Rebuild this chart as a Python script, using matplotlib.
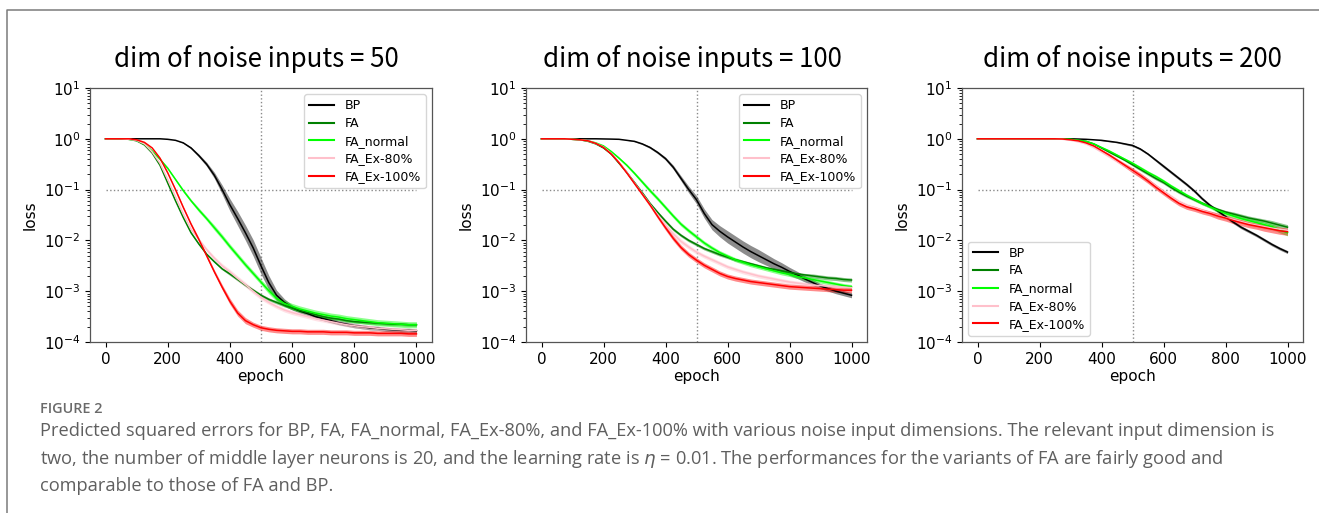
import numpy as np
import matplotlib
matplotlib.use("Agg")
import matplotlib.pyplot as plt
from matplotlib.lines import Line2D

# ---------------------------------------------------------------- data
EPOCHS = [0, 25, 50, 75, 100, 125, 150, 175, 200, 225, 250, 275, 300, 325,
          350, 375, 400, 425, 450, 475, 500, 525, 550, 575, 600, 625, 650,
          675, 700, 725, 750, 775, 800, 825, 850, 875, 900, 925, 950, 975, 1000]

NOISE_DIMS = [50, 100, 200]
SERIES = ["BP", "FA", "FA_normal", "FA_Ex-80%", "FA_Ex-100%"]
COLORS = ["black", "green", "lime", "pink", "red"]

# log10(loss) of each rule, one list per noise-input dimension
D50_BP = [0, 0, 0, 0, 0, 0, 0, 0, -0.01, -0.03, -0.08, -0.18, -0.33, -0.50,
          -0.72, -1.00, -1.30, -1.57, -1.85, -2.15, -2.50,
          -2.83, -3.08, -3.22, -3.32, -3.39, -3.44, -3.50, -3.54, -3.58, -3.62,
          -3.65, -3.68, -3.70, -3.72, -3.73, -3.75, -3.76, -3.77, -3.77, -3.78]
D50_FA = [0, 0, 0, -0.01, -0.04, -0.12, -0.28, -0.52, -0.87, -1.22, -1.55,
          -1.85, -2.07, -2.27, -2.42, -2.56, -2.66, -2.77, -2.88, -2.98, -3.08,
          -3.16, -3.22, -3.28, -3.33, -3.38, -3.42, -3.46, -3.50, -3.53, -3.55,
          -3.58, -3.60, -3.61, -3.62, -3.63, -3.64, -3.65, -3.65, -3.66, -3.66]
D50_FAN = [0, 0, 0, -0.01, -0.03, -0.10, -0.24, -0.40, -0.58, -0.80, -1.02,
           -1.22, -1.40, -1.57, -1.75, -1.93, -2.12, -2.30, -2.48, -2.65, -2.82,
           -2.99, -3.14, -3.24, -3.30, -3.35, -3.39, -3.43, -3.46, -3.49, -3.51,
           -3.54, -3.56, -3.58, -3.60, -3.62, -3.63, -3.64, -3.65, -3.66, -3.66]
D50_EX80 = [0, 0, 0, -0.01, -0.03, -0.10, -0.26, -0.48, -0.80, -1.14, -1.48,
            -1.78, -1.98, -2.18, -2.35, -2.50, -2.62, -2.75, -2.87, -3.00, -3.12,
            -3.22, -3.30, -3.37, -3.42, -3.46, -3.50, -3.54, -3.57, -3.60, -3.63,
            -3.66, -3.68, -3.70, -3.71, -3.73, -3.74, -3.75, -3.76, -3.77, -3.77]
D50_EX100 = [0, 0, 0, 0, -0.02, -0.07, -0.18, -0.38, -0.67, -1.00, -1.35,
             -1.68, -1.98, -2.30, -2.62, -2.92, -3.20, -3.43, -3.58, -3.66, -3.72,
             -3.75, -3.77, -3.78, -3.79, -3.79, -3.80, -3.80, -3.80, -3.81, -3.81,
             -3.81, -3.82, -3.82, -3.82, -3.83, -3.83, -3.83, -3.83, -3.84, -3.84]

D100_BP = [0, 0, 0, 0, 0, 0, 0, 0, -0.003, -0.006, -0.01, -0.03, -0.05, -0.10,
           -0.17, -0.27, -0.39, -0.56, -0.78, -1.00, -1.20,
           -1.47, -1.69, -1.82, -1.93, -2.03, -2.13, -2.22, -2.30, -2.38, -2.46,
           -2.53, -2.61, -2.68, -2.76, -2.83, -2.90, -2.95, -3.00, -3.04, -3.08]
D100_FA = [0, 0, 0, 0, -0.01, -0.02, -0.05, -0.10, -0.18, -0.30, -0.48,
           -0.66, -0.86, -1.06, -1.27, -1.45, -1.62, -1.78, -1.90, -2.00, -2.08,
           -2.16, -2.22, -2.28, -2.33, -2.38, -2.42, -2.46, -2.50, -2.54, -2.57,
           -2.60, -2.63, -2.66, -2.68, -2.70, -2.72, -2.74, -2.75, -2.77, -2.78]
D100_FAN = [0, 0, 0, 0, -0.01, -0.02, -0.04, -0.08, -0.14, -0.25, -0.38,
            -0.52, -0.68, -0.85, -1.02, -1.18, -1.35, -1.52, -1.68, -1.81, -1.93,
            -2.05, -2.15, -2.24, -2.31, -2.38, -2.43, -2.48, -2.52, -2.56, -2.60,
            -2.64, -2.67, -2.71, -2.74, -2.77, -2.80, -2.83, -2.86, -2.89, -2.91]
D100_EX80 = [0, 0, 0, 0, -0.01, -0.02, -0.04, -0.09, -0.16, -0.29, -0.46,
             -0.66, -0.87, -1.08, -1.29, -1.50, -1.70, -1.87, -2.02, -2.13, -2.23,
             -2.31, -2.38, -2.45, -2.52, -2.57, -2.62, -2.66, -2.70, -2.73, -2.76,
             -2.79, -2.82, -2.84, -2.86, -2.88, -2.89, -2.90, -2.91, -2.92, -2.93]
D100_EX100 = [0, 0, 0, 0, -0.01, -0.02, -0.04, -0.09, -0.17, -0.30, -0.47,
              -0.67, -0.88, -1.09, -1.30, -1.53, -1.75, -1.96, -2.14, -2.28, -2.39,
              -2.49, -2.57, -2.65, -2.71, -2.75, -2.78, -2.81, -2.83, -2.85, -2.87,
              -2.89, -2.91, -2.92, -2.93, -2.94, -2.95, -2.96, -2.97, -2.98, -2.98]

D200_BP = [0, 0, 0, 0, 0, 0, 0, 0, 0, 0, 0, 0, 0, -0.005,
           -0.01, -0.02, -0.03, -0.05, -0.07, -0.10, -0.13,
           -0.20, -0.30, -0.42, -0.54, -0.66, -0.78, -0.90, -1.03, -1.18, -1.31,
           -1.42, -1.53, -1.64, -1.74, -1.82, -1.90, -1.99, -2.08, -2.16, -2.23]
D200_FA = [0, 0, 0, 0, 0, 0, 0, 0, 0, 0, 0, -0.005, -0.01, -0.03,
           -0.05, -0.10, -0.18, -0.26, -0.34, -0.42, -0.51,
           -0.60, -0.69, -0.78, -0.86, -0.96, -1.05, -1.13, -1.20, -1.27, -1.33,
           -1.39, -1.44, -1.48, -1.52, -1.56, -1.59, -1.62, -1.66, -1.70, -1.74]
D200_FAN = [0, 0, 0, 0, 0, 0, 0, 0, 0, 0, 0, -0.005, -0.01, -0.03,
            -0.05, -0.10, -0.17, -0.24, -0.32, -0.40, -0.48,
            -0.57, -0.66, -0.74, -0.83, -0.93, -1.02, -1.11, -1.19, -1.27, -1.34,
            -1.41, -1.47, -1.52, -1.57, -1.61, -1.65, -1.69, -1.73, -1.79, -1.85]
D200_EX80 = [0, 0, 0, 0, 0, 0, 0, 0, 0, 0, 0, -0.01, -0.03, -0.06,
             -0.10, -0.17, -0.26, -0.35, -0.44, -0.53, -0.63,
             -0.72, -0.82, -0.93, -1.04, -1.14, -1.24, -1.31, -1.36, -1.41, -1.46,
             -1.51, -1.55, -1.59, -1.63, -1.67, -1.70, -1.73, -1.76, -1.78, -1.80]
D200_EX100 = [0, 0, 0, 0, 0, 0, 0, 0, 0, 0, 0, -0.005, -0.02, -0.04,
              -0.08, -0.14, -0.23, -0.32, -0.42, -0.52, -0.62,
              -0.72, -0.83, -0.95, -1.06, -1.17, -1.27, -1.34, -1.38, -1.43, -1.47,
              -1.52, -1.56, -1.61, -1.65, -1.69, -1.72, -1.75, -1.78, -1.81, -1.83]

# half-width (decades) of the epoch-to-epoch jitter around each curve
N50_BP = [0, 0, 0, 0, 0, 0, 0, 0, 0, 0, 0.01, 0.02, 0.03, 0.04,
          0.06, 0.09, 0.12, 0.14, 0.15, 0.16, 0.16,
          0.14, 0.10, 0.07, 0.05, 0.04, 0.04, 0.04, 0.04, 0.04, 0.04,
          0.04, 0.04, 0.04, 0.04, 0.04, 0.04, 0.04, 0.04, 0.04, 0.04]
N50_FA = [0, 0, 0, 0, 0, 0, 0, 0, 0.01, 0.015, 0.02, 0.02, 0.02, 0.02,
          0.02, 0.02, 0.03, 0.03, 0.03, 0.03, 0.03,
          0.03, 0.03, 0.03, 0.03, 0.03, 0.03, 0.03, 0.03, 0.03, 0.03,
          0.03, 0.03, 0.03, 0.03, 0.03, 0.03, 0.03, 0.03, 0.03, 0.03]
N50_FAN = [0, 0, 0, 0, 0, 0, 0.01, 0.01, 0.02, 0.02, 0.03, 0.03, 0.04, 0.04,
           0.05, 0.05, 0.05, 0.05, 0.05, 0.05, 0.05,
           0.06, 0.06, 0.06, 0.06, 0.06, 0.06, 0.06, 0.06, 0.06, 0.06,
           0.06, 0.06, 0.06, 0.06, 0.06, 0.06, 0.06, 0.06, 0.06, 0.06]
N50_EX80 = [0, 0, 0, 0, 0, 0, 0, 0, 0.01, 0.015, 0.02, 0.025, 0.03, 0.035,
            0.04, 0.045, 0.05, 0.05, 0.05, 0.05, 0.05,
            0.04, 0.04, 0.04, 0.04, 0.04, 0.04, 0.04, 0.04, 0.04, 0.04,
            0.04, 0.04, 0.04, 0.04, 0.04, 0.04, 0.04, 0.04, 0.04, 0.04]
N50_EX100 = [0, 0, 0, 0, 0, 0, 0, 0, 0.01, 0.015, 0.02, 0.025, 0.03, 0.035,
             0.04, 0.05, 0.06, 0.06, 0.06, 0.05, 0.05,
             0.05, 0.05, 0.05, 0.05, 0.05, 0.05, 0.05, 0.05, 0.05, 0.05,
             0.05, 0.05, 0.05, 0.05, 0.05, 0.05, 0.05, 0.05, 0.05, 0.05]

N100_BP = [0, 0, 0, 0, 0, 0, 0, 0, 0, 0, 0, 0, 0.01, 0.015,
           0.02, 0.025, 0.03, 0.04, 0.05, 0.065, 0.08,
           0.09, 0.10, 0.11, 0.12, 0.12, 0.12, 0.12, 0.12, 0.11, 0.10,
           0.09, 0.08, 0.07, 0.06, 0.06, 0.05, 0.05, 0.05, 0.05, 0.05]
N100_FA = [0, 0, 0, 0, 0, 0, 0, 0, 0.01, 0.015, 0.02, 0.02, 0.02, 0.02,
           0.02, 0.025, 0.03, 0.03, 0.03, 0.03, 0.03,
           0.03, 0.03, 0.03, 0.03, 0.03, 0.03, 0.03, 0.03, 0.03, 0.03,
           0.03, 0.03, 0.03, 0.03, 0.04, 0.04, 0.04, 0.04, 0.04, 0.04]
N100_FAN = [0, 0, 0, 0, 0, 0, 0, 0, 0.01, 0.015, 0.02, 0.025, 0.03, 0.035,
            0.04, 0.04, 0.04, 0.04, 0.04, 0.04, 0.04,
            0.04, 0.04, 0.04, 0.04, 0.04, 0.04, 0.04, 0.04, 0.04, 0.04,
            0.04, 0.04, 0.04, 0.04, 0.04, 0.04, 0.04, 0.04, 0.04, 0.04]
N100_EX80 = [0, 0, 0, 0, 0, 0, 0, 0, 0.01, 0.015, 0.02, 0.025, 0.03, 0.035,
             0.04, 0.045, 0.05, 0.05, 0.05, 0.045, 0.04,
             0.04, 0.04, 0.04, 0.04, 0.04, 0.04, 0.04, 0.04, 0.04, 0.04,
             0.04, 0.04, 0.04, 0.04, 0.04, 0.04, 0.04, 0.04, 0.04, 0.04]
N100_EX100 = [0, 0, 0, 0, 0, 0, 0, 0, 0.01, 0.015, 0.02, 0.025, 0.03, 0.035,
              0.04, 0.045, 0.05, 0.05, 0.05, 0.05, 0.05,
              0.05, 0.05, 0.05, 0.05, 0.05, 0.05, 0.05, 0.05, 0.05, 0.05,
              0.05, 0.05, 0.05, 0.05, 0.05, 0.05, 0.05, 0.05, 0.05, 0.05]

N200_BP = [0, 0, 0, 0, 0, 0, 0, 0, 0, 0, 0, 0, 0, 0,
           0, 0, 0.01, 0.01, 0.01, 0.015, 0.02,
           0.02, 0.02, 0.025, 0.03, 0.03, 0.03, 0.03, 0.03, 0.03, 0.03,
           0.03, 0.03, 0.03, 0.03, 0.03, 0.03, 0.03, 0.03, 0.03, 0.03]
N200_FA = [0, 0, 0, 0, 0, 0, 0, 0, 0, 0, 0, 0, 0, 0,
           0.01, 0.01, 0.015, 0.02, 0.02, 0.02, 0.025,
           0.03, 0.03, 0.03, 0.03, 0.03, 0.03, 0.03, 0.03, 0.03, 0.03,
           0.03, 0.03, 0.04, 0.04, 0.04, 0.04, 0.04, 0.05, 0.05, 0.05]
N200_FAN = [0, 0, 0, 0, 0, 0, 0, 0, 0, 0, 0, 0, 0, 0,
            0.01, 0.01, 0.015, 0.02, 0.02, 0.02, 0.025,
            0.03, 0.03, 0.03, 0.03, 0.03, 0.03, 0.03, 0.03, 0.03, 0.03,
            0.04, 0.04, 0.04, 0.04, 0.04, 0.05, 0.05, 0.05, 0.06, 0.06]
N200_EX80 = [0, 0, 0, 0, 0, 0, 0, 0, 0, 0, 0, 0, 0, 0,
             0.01, 0.015, 0.02, 0.025, 0.03, 0.035, 0.04,
             0.04, 0.04, 0.04, 0.04, 0.04, 0.04, 0.04, 0.04, 0.04, 0.04,
             0.04, 0.04, 0.04, 0.04, 0.05, 0.05, 0.05, 0.05, 0.05, 0.05]
N200_EX100 = [0, 0, 0, 0, 0, 0, 0, 0, 0, 0, 0, 0, 0, 0,
              0.01, 0.015, 0.02, 0.03, 0.035, 0.04, 0.05,
              0.05, 0.05, 0.05, 0.05, 0.05, 0.05, 0.05, 0.05, 0.05, 0.05,
              0.06, 0.06, 0.06, 0.06, 0.06, 0.06, 0.07, 0.07, 0.07, 0.07]

PANEL_CURVES = [
    [D50_BP, D50_FA, D50_FAN, D50_EX80, D50_EX100],
    [D100_BP, D100_FA, D100_FAN, D100_EX80, D100_EX100],
    [D200_BP, D200_FA, D200_FAN, D200_EX80, D200_EX100],
]
PANEL_NOISE = [
    [N50_BP, N50_FA, N50_FAN, N50_EX80, N50_EX100],
    [N100_BP, N100_FA, N100_FAN, N100_EX80, N100_EX100],
    [N200_BP, N200_FA, N200_FAN, N200_EX80, N200_EX100],
]
LEGEND_LOC = ["upper right", "upper right", "lower left"]

LOSS_THRESHOLD = 0.1
HALF_EPOCH = 500
X_TICKS = [0, 200, 400, 600, 800, 1000]

CAPTION_HEAD = "FIGURE 2"
CAPTION_LINES = [
    "Predicted squared errors for BP, FA, FA_normal, FA_Ex-80%, and FA_Ex-100% with various noise input dimensions. The relevant input dimension is",
    "two, the number of middle layer neurons is 20, and the learning rate is $\\eta$ = 0.01. The performances for the variants of FA are fairly good and",
    "comparable to those of FA and BP.",
]

# ---------------------------------------------------------------- figure
W, H = 1319, 513
fig = plt.figure(figsize=(W / 100, H / 100), dpi=100)
fig.patch.set_facecolor("white")
renderer = fig.canvas.get_renderer()


def fit_size(txt, target_px):
    """Rescale a text so that its rendered width is target_px."""
    w = txt.get_window_extent(renderer).width
    txt.set_fontsize(txt.get_fontsize() * target_px / w)
    return txt.get_fontsize()


# page frame (open towards the right and bottom)
frame = Line2D([7 / W, 7 / W, 1.0], [0.0, 1 - 10 / H, 1 - 10 / H],
               transform=fig.transFigure, color="#7a7a7a", lw=1.1)
fig.add_artist(frame)

axes_px = [(90, 432), (526, 867), (962, 1303)]
title_cx = [256, 692, 1132]
top_px, bot_px = 88, 342

e = np.array(EPOCHS, dtype=float)
title_size = None
for k, dim in enumerate(NOISE_DIMS):
    l, r = axes_px[k]
    ax = fig.add_axes([l / W, 1 - bot_px / H, (r - l) / W, (bot_px - top_px) / H])
    ax.set_yscale("log")

    ax.plot([EPOCHS[0], EPOCHS[-1]], [LOSS_THRESHOLD, LOSS_THRESHOLD],
            ls=":", color="#8a8a8a", lw=1.0, zorder=1)
    ax.axvline(HALF_EPOCH, ls=":", color="#8a8a8a", lw=1.0, zorder=1)

    for name, col, logv, noise in zip(SERIES, COLORS, PANEL_CURVES[k], PANEL_NOISE[k]):
        v = np.power(10.0, np.array(logv))
        s = np.power(10.0, np.array(noise))
        ax.fill_between(e, v / s, v * s, color=col, alpha=0.45, lw=0, zorder=2)
        ax.plot(e, v, color=col, lw=1.1, label=name, zorder=3)

    ax.set_ylim(1e-4, 1e1)
    ax.set_xticks(X_TICKS)
    ax.tick_params(labelsize=11)
    ax.set_xlabel("epoch", fontsize=11, labelpad=2)
    ax.set_ylabel("loss", fontsize=11)
    for sp in ax.spines.values():
        sp.set_color("#555555")
        sp.set_linewidth(0.9)

    leg = ax.legend(loc=LEGEND_LOC[k], fontsize=9, handlelength=2.0,
                    labelspacing=0.38)
    for ln in leg.get_lines():
        ln.set_linewidth(1.5)

    t = fig.text(title_cx[k] / W, 1 - 67 / H, f"dim of noise inputs = {dim}",
                 ha="center", va="baseline", fontsize=18,
                 family=["Noto Sans CJK JP", "DejaVu Sans"], color="black")
    if title_size is None:
        title_size = fit_size(t, 285)
    else:
        t.set_fontsize(title_size)

# caption
head = fig.text(40 / W, 1 - 413 / H, CAPTION_HEAD, ha="left", va="baseline",
                fontsize=9, color="#6a6a6a", family="Open Sans", weight="semibold")
fit_size(head, 62)
cap_size = None
for i, line in enumerate(CAPTION_LINES):
    t = fig.text(40 / W, 1 - (436 + 27.5 * i) / H, line, ha="left", va="baseline",
                 fontsize=12, color="#5f5f5f", family="Open Sans")
    if cap_size is None:
        cap_size = fit_size(t, 1230)
    else:
        t.set_fontsize(cap_size)

fig.savefig("out.png", dpi=100, facecolor="white")
